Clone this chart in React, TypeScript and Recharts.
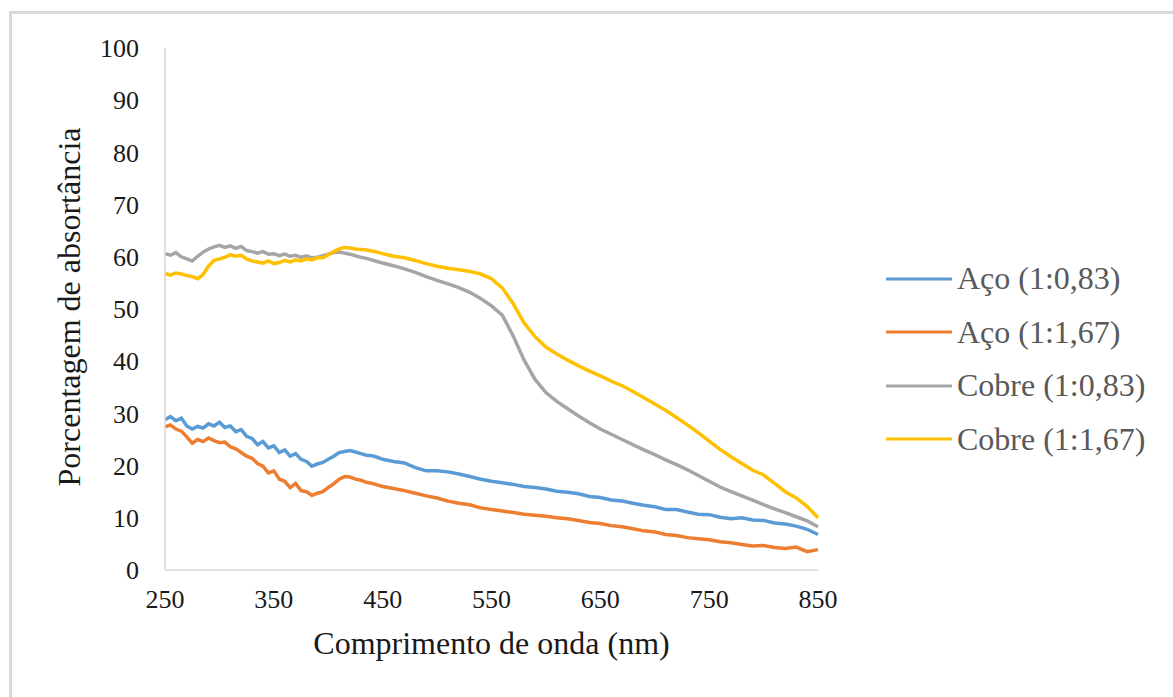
import React from 'react';
import { LineChart, Line, XAxis, YAxis, Legend, Label } from 'recharts';

// wavelength (nm): 5 nm steps up to 450, then 10 nm steps
const wavelengths = [
  250, 255, 260, 265, 270, 275, 280, 285, 290, 295, 300, 305, 310, 315, 320, 325, 330, 335, 340, 345,
  350, 355, 360, 365, 370, 375, 380, 385, 390, 395, 400, 405, 410, 415, 420, 425, 430, 435, 440, 445,
  450, 460, 470, 480, 490, 500, 510, 520, 530, 540, 550, 560, 570, 580, 590, 600, 610, 620, 630, 640,
  650, 660, 670, 680, 690, 700, 710, 720, 730, 740, 750, 760, 770, 780, 790, 800, 810, 820, 830, 840,
  850,
];

const acoA = [
  28.8, 29.4, 28.6, 29.1, 27.6, 27.0, 27.5, 27.2, 28.0, 27.6, 28.3, 27.3, 27.6, 26.5, 26.9, 25.6, 25.2, 24.0, 24.6, 23.4,
  23.8, 22.5, 23.0, 21.8, 22.3, 21.2, 20.8, 19.9, 20.3, 20.6, 21.2, 21.8, 22.5, 22.7, 22.9, 22.6, 22.3, 22.0, 21.9, 21.6,
  21.2, 20.8, 20.5, 19.6, 19.0, 19.0, 18.8, 18.4, 17.9, 17.4, 17.0, 16.7, 16.4, 16.0, 15.8, 15.5, 15.1, 14.9, 14.6, 14.1,
  13.9, 13.4, 13.2, 12.8, 12.4, 12.1, 11.6, 11.6, 11.1, 10.7, 10.6, 10.1, 9.8, 10.0, 9.6, 9.5, 9.0, 8.8, 8.4, 7.8,
  6.8,
];

const acoB = [
  27.4, 27.8, 27.0, 26.6, 25.5, 24.3, 25.0, 24.6, 25.3, 24.8, 24.4, 24.5, 23.6, 23.2, 22.5, 21.8, 21.4, 20.4, 19.9, 18.6,
  19.0, 17.4, 17.0, 15.8, 16.6, 15.2, 15.0, 14.3, 14.7, 15.0, 15.8, 16.5, 17.4, 17.9, 17.8, 17.4, 17.2, 16.8, 16.6, 16.3,
  16.0, 15.6, 15.2, 14.7, 14.2, 13.8, 13.2, 12.8, 12.5, 11.9, 11.6, 11.3, 11.0, 10.7, 10.5, 10.3, 10.0, 9.8, 9.5, 9.1,
  8.9, 8.5, 8.3, 7.9, 7.5, 7.3, 6.8, 6.6, 6.2, 6.0, 5.8, 5.4, 5.2, 4.9, 4.6, 4.7, 4.3, 4.1, 4.4, 3.5,
  3.9,
];

const cobreA = [
  60.6, 60.3, 60.8, 60.0, 59.6, 59.2, 60.1, 60.9, 61.5, 61.9, 62.2, 61.8, 62.1, 61.6, 62.0, 61.2, 61.0, 60.7, 61.0, 60.5,
  60.6, 60.2, 60.5, 60.1, 60.3, 59.9, 60.2, 59.8, 59.9, 60.2, 60.5, 60.8, 60.9, 60.7, 60.5, 60.2, 59.9, 59.7, 59.4, 59.1,
  58.8, 58.3, 57.7, 57.0, 56.2, 55.5, 54.8, 54.1, 53.2, 52.0, 50.6, 48.8, 44.8, 40.2, 36.5, 34.0, 32.3, 30.9, 29.5, 28.2,
  27.0, 26.0, 25.0, 24.0, 23.0, 22.1, 21.1, 20.2, 19.2, 18.1, 17.0, 15.9, 15.0, 14.2, 13.4, 12.5, 11.7, 11.0, 10.2, 9.4,
  8.3,
];

const cobreB = [
  56.8, 56.5, 56.9, 56.7, 56.4, 56.2, 55.8, 56.6, 58.2, 59.3, 59.6, 59.9, 60.4, 60.1, 60.3, 59.6, 59.2, 59.0, 58.8, 59.2,
  58.7, 58.9, 59.3, 59.0, 59.4, 59.2, 59.6, 59.4, 59.8, 59.8, 60.4, 61.0, 61.5, 61.8, 61.7, 61.5, 61.4, 61.3, 61.1, 60.9,
  60.6, 60.1, 59.8, 59.3, 58.7, 58.2, 57.8, 57.5, 57.2, 56.7, 55.8, 54.0, 51.0, 47.3, 44.7, 42.7, 41.4, 40.2, 39.1, 38.1,
  37.2, 36.2, 35.3, 34.2, 33.0, 31.8, 30.6, 29.2, 27.8, 26.3, 24.7, 23.1, 21.7, 20.4, 19.1, 18.2, 16.6, 15.0, 13.8, 12.2,
  10.0,
];

const xTicks = [250, 350, 450, 550, 650, 750, 850];
const yTicks = [0, 10, 20, 30, 40, 50, 60, 70, 80, 90, 100];

const series = [
  { key: 'acoA', name: 'Aço (1:0,83)', color: '#5B9BD5' },
  { key: 'acoB', name: 'Aço (1:1,67)', color: '#ED7D31' },
  { key: 'cobreA', name: 'Cobre (1:0,83)', color: '#A5A5A5' },
  { key: 'cobreB', name: 'Cobre (1:1,67)', color: '#FFC000' },
];

const data = wavelengths.map((nm, i) => ({
  nm,
  acoA: acoA[i],
  acoB: acoB[i],
  cobreA: cobreA[i],
  cobreB: cobreB[i],
}));

const font = '"Liberation Serif", "Times New Roman", serif';

function LegendBox() {
  return (
    <div style={{ fontFamily: font }}>
      {series.map((s) => (
        <div key={s.key} style={{ display: 'flex', alignItems: 'center', height: 53.5 }}>
          <svg width={66} height={6} style={{ marginRight: 5 }}>
            <line x1={1} y1={3} x2={65} y2={3} stroke={s.color} strokeWidth={3} strokeLinecap="round" />
          </svg>
          <span style={{ fontSize: 32, color: '#595959', whiteSpace: 'nowrap' }}>{s.name}</span>
        </div>
      ))}
    </div>
  );
}

function YTitle({ viewBox }: any) {
  const cx = viewBox.x + 34;
  const cy = viewBox.y + viewBox.height / 2 - 2;
  return (
    <text
      x={cx}
      y={cy}
      transform={`rotate(-90 ${cx} ${cy})`}
      textAnchor="middle"
      dominantBaseline="central"
      fontFamily={font}
      fontSize={32}
      fill="#1a1a1a"
    >
      Porcentagem de absortância
    </text>
  );
}

export default function App() {
  return (
    <div style={{ position: 'absolute', left: 0, top: 0, width: 1173, height: 697, overflow: 'hidden', background: '#fff' }}>
      <div
        style={{
          position: 'absolute',
          left: 9,
          top: 11,
          width: 1200,
          height: 720,
          borderLeft: '3px solid #d9d9d9',
          borderTop: '3px solid #d9d9d9',
        }}
      />
      <div style={{ position: 'absolute', left: 0, top: 0 }}>
        <LineChart width={1173} height={697} data={data} margin={{ top: 48, right: 355, bottom: 87, left: 35 }}>
          <XAxis
            dataKey="nm"
            type="number"
            domain={[250, 850]}
            ticks={xTicks}
            height={40}
            tickLine={false}
            tickSize={0}
            tickMargin={20}
            axisLine={{ stroke: '#d9d9d9', strokeWidth: 1.5 }}
            tick={{ fill: '#1a1a1a', fontSize: 26, fontFamily: font }}
          >
            <Label
              value="Comprimento de onda (nm)"
              position="bottom"
              offset={21}
              style={{ fill: '#1a1a1a', fontSize: 32, fontFamily: font }}
            />
          </XAxis>
          <YAxis
            type="number"
            domain={[0, 100]}
            ticks={yTicks}
            width={130}
            tickLine={false}
            tickSize={0}
            tickMargin={26}
            axisLine={{ stroke: '#d9d9d9', strokeWidth: 1.5 }}
            tick={{ fill: '#1a1a1a', fontSize: 26, fontFamily: font }}
          >
            <Label content={YTitle} />
          </YAxis>
          <Legend
            layout="horizontal"
            verticalAlign="middle"
            align="center"
            content={LegendBox}
            wrapperStyle={{ left: 886, top: 252, width: 287 }}
          />
          {series.map((s) => (
            <Line
              key={s.key}
              type="linear"
              dataKey={s.key}
              name={s.name}
              stroke={s.color}
              strokeWidth={3.5}
              dot={false}
              isAnimationActive={false}
            />
          ))}
        </LineChart>
      </div>
    </div>
  );
}
